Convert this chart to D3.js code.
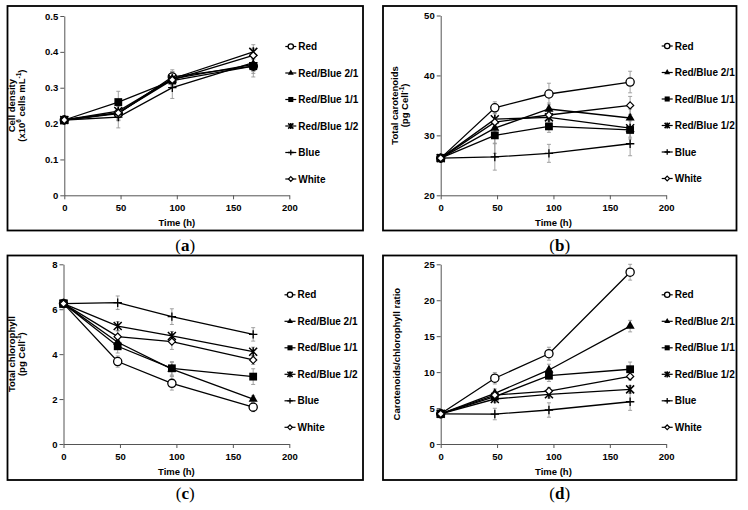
<!DOCTYPE html>
<html><head><meta charset="utf-8">
<script src="https://cdn.jsdelivr.net/npm/d3@7"></script>
<style>body{margin:0;background:#fff}svg{display:block}</style>
</head><body><svg id="c" width="748" height="510"></svg>
<script>
const times = [0, 48, 96, 168];
const seriesNames = ["Red", "Red/Blue 2/1", "Red/Blue 1/1", "Red/Blue 1/2", "Blue", "White"];
const xTicks = [0, 50, 100, 150, 200];

// (a) Cell density
const aRed   = [0.21, 0.228, 0.33, 0.36];
const aRB21  = [0.21, 0.23, 0.325, 0.365];
const aRB11  = [0.21, 0.26, 0.32, 0.36];
const aRB12  = [0.21, 0.235, 0.325, 0.40];
const aBlue  = [0.21, 0.218, 0.30, 0.37];
const aWhite = [0.21, 0.23, 0.322, 0.39];
const aErr = [[0.01,0.02,0.02,0.02],[0.01,0.02,0.02,0.02],[0.01,0.03,0.02,0.03],[0.01,0.02,0.02,0.02],[0.01,0.03,0.03,0.02],[0.01,0.02,0.02,0.02]];
const aTicks = [0, 0.1, 0.2, 0.3, 0.4, 0.5];

// (b) Total carotenoids
const bRed   = [26.2, 34.6, 36.9, 38.9];
const bRB21  = [26.2, 31.2, 34.4, 32.9];
const bRB11  = [26.2, 30.0, 31.5, 30.9];
const bRB12  = [26.2, 32.7, 33.0, 31.2];
const bBlue  = [26.2, 26.4, 27.0, 28.6];
const bWhite = [26.2, 32.2, 33.4, 35.0];
const bErr = [[0.3,1.0,1.8,1.8],[0.3,2.5,1.0,1.5],[0.3,3.0,1.0,1.5],[0.3,2.0,1.0,1.5],[0.3,2.2,1.5,2.0],[0.3,2.0,1.0,1.5]];
const bTicks = [20, 30, 40, 50];

// (c) Total chlorophyll
const cRed   = [6.25, 3.67, 2.70, 1.64];
const cRB21  = [6.25, 4.53, 3.33, 2.00];
const cRB11  = [6.25, 4.35, 3.37, 3.00];
const cRB12  = [6.25, 5.25, 4.81, 4.11];
const cBlue  = [6.25, 6.29, 5.67, 4.88];
const cWhite = [6.25, 4.78, 4.56, 3.74];
const cErr = [[0.1,0.25,0.3,0.2],[0.1,0.25,0.3,0.15],[0.1,0.3,0.3,0.35],[0.1,0.2,0.2,0.2],[0.1,0.3,0.35,0.3],[0.1,0.25,0.35,0.2]];
const cTicks = [0, 2, 4, 6, 8];

// (d) Carotenoids/chlorophyll ratio
const dRed   = [4.2, 9.15, 12.56, 23.9];
const dRB21  = [4.2, 7.05, 10.3, 16.4];
const dRB11  = [4.2, 6.6, 9.5, 10.4];
const dRB12  = [4.2, 6.26, 6.91, 7.6];
const dBlue  = [4.2, 4.17, 4.73, 5.88];
const dWhite = [4.2, 6.8, 7.37, 9.4];
const dErr = [[0.2,0.8,0.9,1.1],[0.2,0.6,0.8,0.8],[0.2,0.6,0.8,1.0],[0.2,0.5,0.5,0.5],[0.2,0.8,1.0,1.2],[0.2,0.5,0.5,0.5]];
const dTicks = [0, 5, 10, 15, 20, 25];

const panels = [
  {cap:"a", vals:[aRed,aRB21,aRB11,aRB12,aBlue,aWhite], err:aErr, ticks:aTicks, dom:[0,0.5], fmt:d=>d===0?"0":d3.format(".1f")(d),
   title:[["Cell density"],["(x10",["6","sup"]," cells mL",["-1","sup"],")"]], tx:[15,25],
   frame:[7.5,6,363,230.5], px:[64.3,289.3], py:[195.3,16], capY:245},
  {cap:"b", vals:[bRed,bRB21,bRB11,bRB12,bBlue,bWhite], err:bErr, ticks:bTicks, dom:[20,50], fmt:d=>d,
   title:[["Total carotenoids"],["(pg Cell",["-1","sup"],")"]], tx:[397.5,407.5],
   frame:[383,6,736.5,230.5], px:[440.7,666.2], py:[195.3,15.5], capY:245},
  {cap:"c", vals:[cRed,cRB21,cRB11,cRB12,cBlue,cWhite], err:cErr, ticks:cTicks, dom:[0,8], fmt:d=>d,
   title:[["Total chlorophyll"],["(pg Cell",["-1","sup"],")"]], tx:[15,25],
   frame:[7.5,255.5,363,480], px:[63.5,289.3], py:[444,264.3], capY:493},
  {cap:"d", vals:[dRed,dRB21,dRB11,dRB12,dBlue,dWhite], err:dErr, ticks:dTicks, dom:[0,25], fmt:d=>d,
   title:[["Carotenoids/chlorophyll ratio"]], tx:[399.5],
   frame:[383,255.5,736.5,480], px:[440.7,666.2], py:[444,264.3], capY:493}
];

const svg = d3.select("#c");
const FONT = "'Liberation Sans', Arial, sans-serif";

function drawMarker(g, i, x, y, k) {
  if (i === 0) {
    g.append("circle").attr("cx",x).attr("cy",y).attr("r",4.1*k).attr("fill","#fff").attr("stroke","#000").attr("stroke-width",1.3);
  } else if (i === 1) {
    g.append("path").attr("transform",`translate(${x},${y})`).attr("d",d3.symbol(d3.symbolTriangle, 36*k*k)()).attr("fill","#000");
  } else if (i === 2) {
    const h = 3.9*k;
    g.append("rect").attr("x",x-h).attr("y",y-h).attr("width",2*h).attr("height",2*h).attr("fill","#000");
  } else if (i === 3) {
    const h = 4*k;
    g.append("path").attr("d",`M${x-h},${y-h}L${x+h},${y+h}M${x-h},${y+h}L${x+h},${y-h}M${x},${y-h-0.5}L${x},${y+h+0.5}`)
      .attr("stroke","#000").attr("stroke-width",1.5).attr("fill","none");
  } else if (i === 4) {
    const h = 4.2*k;
    g.append("path").attr("d",`M${x-h},${y}L${x+h},${y}M${x},${y-h}L${x},${y+h}`)
      .attr("stroke","#000").attr("stroke-width",1.3).attr("fill","none");
  } else {
    const h = 3.6*k;
    g.append("path").attr("d",`M${x},${y-h}L${x+h},${y}L${x},${y+h}L${x-h},${y}Z`)
      .attr("fill","#fff").attr("stroke","#000").attr("stroke-width",1.2);
  }
}

panels.forEach(p => {
  const g = svg.append("g");
  const [fx0, fy0, fx1, fy1] = p.frame;
  g.append("rect").attr("x",fx0).attr("y",fy0).attr("width",fx1-fx0).attr("height",fy1-fy0)
    .attr("fill","none").attr("stroke","#000").attr("stroke-width",1.8);

  const x = d3.scaleLinear().domain([0,200]).range(p.px);
  const y = d3.scaleLinear().domain(p.dom).range(p.py);

  const xAxis = g.append("g").attr("transform",`translate(0,${p.py[0]})`)
    .call(d3.axisBottom(x).tickValues(xTicks).tickSize(4).tickSizeOuter(0).tickFormat(d=>d));
  const yAxis = g.append("g").attr("transform",`translate(${p.px[0]},0)`)
    .call(d3.axisLeft(y).tickValues(p.ticks).tickSize(4).tickSizeOuter(0).tickFormat(p.fmt));
  [xAxis, yAxis].forEach(ax => {
    ax.select(".domain").attr("stroke","#555").attr("stroke-width",1);
    ax.selectAll(".tick line").attr("stroke","#555");
    ax.selectAll("text").attr("fill","#000").style("font-family",FONT).style("font-weight","bold").style("font-size","9.5px");
  });
  xAxis.selectAll("text").attr("dy","0.9em");
  yAxis.selectAll("text").attr("x",-6);

  // axis titles
  g.append("text").attr("x",(p.px[0]+p.px[1])/2).attr("y",p.py[0]+31).attr("text-anchor","middle")
    .style("font-family",FONT).style("font-weight","bold").style("font-size","9.5px").text("Time (h)");
  const cy = (p.py[0]+p.py[1])/2;
  p.title.forEach((line, li) => {
    const t = g.append("text").attr("transform",`translate(${p.tx[li]},${cy}) rotate(-90)`)
      .attr("text-anchor","middle").attr("dy","0.35em")
      .style("font-family",FONT).style("font-weight","bold").style("font-size","9.5px");
    let raised = false;
    line.forEach(part => {
      if (Array.isArray(part)) {
        t.append("tspan").attr("dy", raised ? 0 : -4).style("font-size","6.5px").text(part[0]);
        raised = true;
      } else {
        t.append("tspan").attr("dy", raised ? 4 : 0).text(part);
        raised = false;
      }
    });
  });

  // error bars
  const eg = g.append("g").attr("stroke","#999").attr("stroke-width",0.9);
  p.vals.forEach((vs, si) => {
    vs.forEach((v, ti) => {
      const e = p.err[si][ti];
      const xx = x(times[ti]);
      eg.append("line").attr("x1",xx).attr("x2",xx).attr("y1",y(v-e)).attr("y2",y(v+e));
      eg.append("line").attr("x1",xx-2).attr("x2",xx+2).attr("y1",y(v-e)).attr("y2",y(v-e));
      eg.append("line").attr("x1",xx-2).attr("x2",xx+2).attr("y1",y(v+e)).attr("y2",y(v+e));
    });
  });

  // lines
  const line = d3.line().x((d,i)=>x(times[i])).y(d=>y(d));
  p.vals.forEach(vs => {
    g.append("path").attr("d",line(vs)).attr("fill","none").attr("stroke","#000").attr("stroke-width",1.3);
  });
  // markers
  const mg = g.append("g");
  p.vals.forEach((vs, si) => {
    vs.forEach((v, ti) => drawMarker(mg, si, x(times[ti]), y(v), 1));
  });

  // legend
  const lx = p.px[0] + 221, ly0 = p.py[1] + 30.5;
  seriesNames.forEach((n, i) => {
    const yy = ly0 + i*26.5;
    g.append("line").attr("x1",lx).attr("x2",lx+11).attr("y1",yy).attr("y2",yy).attr("stroke","#000").attr("stroke-width",1.2);
    drawMarker(g, i, lx+5.5, yy, 0.65);
    g.append("text").attr("x",lx+13).attr("y",yy).attr("dy","0.35em")
      .style("font-family",FONT).style("font-weight","bold").style("font-size","10px").text(n);
  });

  // caption
  const capT = g.append("text").attr("x",(fx0+fx1)/2).attr("y",p.capY).attr("dy","0.35em").attr("text-anchor","middle")
    .style("font-family","'Liberation Serif', 'DejaVu Serif', serif").style("font-size","17px");
  capT.append("tspan").text("(");
  capT.append("tspan").style("font-weight","bold").text(p.cap);
  capT.append("tspan").text(")");
});
</script></body></html>
